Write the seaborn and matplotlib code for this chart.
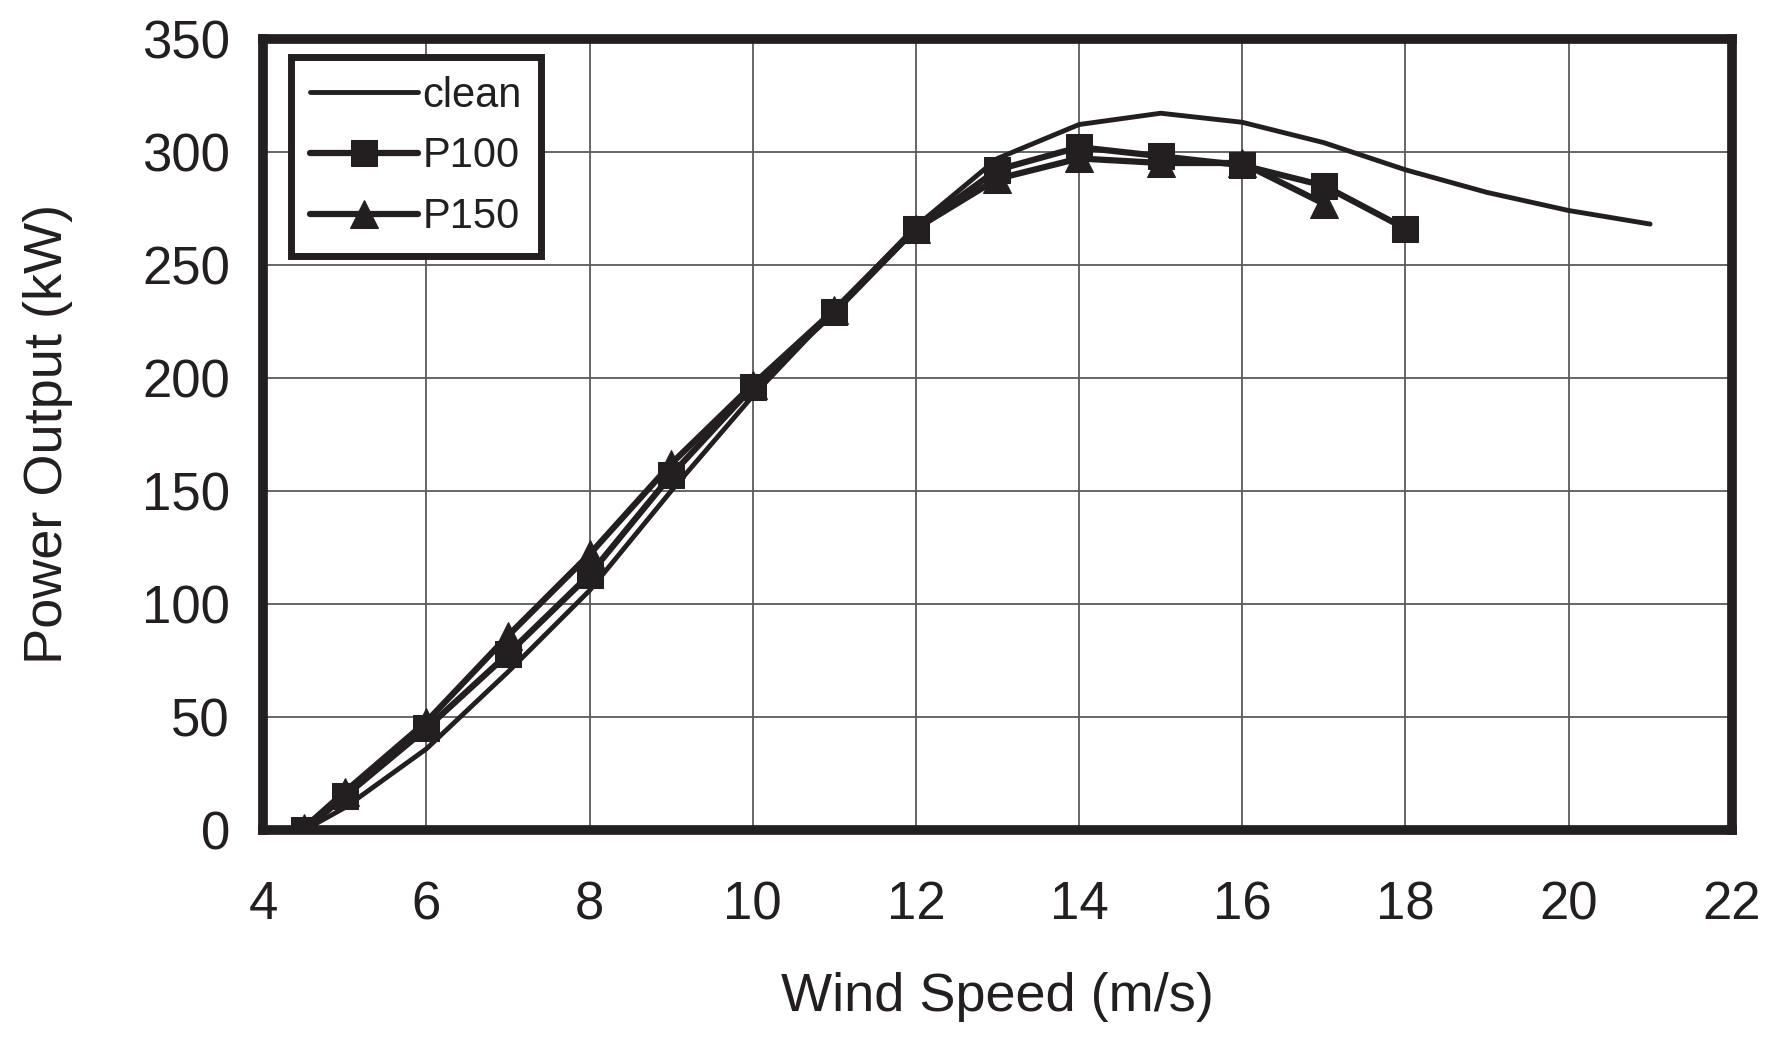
import numpy as np
import pandas as pd
import seaborn as sns
from matplotlib import pyplot as plt

# wind speed (m/s) and power output (kW)
clean_ws = [4.5, 5, 6, 7, 8, 9, 10, 11, 12, 13, 14, 15, 16, 17, 18, 19, 20, 21]
clean_kw = [0, 10, 36, 70, 106, 150, 192, 230, 267, 297, 312, 317, 313, 304, 292, 282, 274, 268]

p100_ws = [4.5, 5, 6, 7, 8, 9, 10, 11, 12, 13, 14, 15, 16, 17, 18]
p100_kw = [0, 15, 45, 78, 113, 157, 196, 229, 266, 292, 302, 298, 294, 285, 266]

p150_ws = [4.5, 5, 6, 7, 8, 9, 10, 11, 12, 13, 14, 15, 16, 17]
p150_kw = [1, 17, 48, 86, 122, 162, 197, 230, 266, 288, 297, 295, 295, 277]

ink = '#231f20'

sns.set_style('white')
plt.rcParams['font.family'] = ['Liberation Sans', 'DejaVu Sans']

fig, ax = plt.subplots(figsize=(17.67, 10.43), dpi=100)
fig.subplots_adjust(left=0.149, right=0.980, top=0.963, bottom=0.204)

sns.lineplot(x=clean_ws, y=clean_kw, ax=ax, color=ink, linewidth=3.5, label='clean')
sns.lineplot(x=p100_ws, y=p100_kw, ax=ax, color=ink, linewidth=4.5, marker='s',
             markersize=19, markeredgecolor=ink, label='P100')
sns.lineplot(x=p150_ws, y=p150_kw, ax=ax, color=ink, linewidth=4.5, marker='^',
             markersize=20, markeredgecolor=ink, label='P150')

ax.set_xlim(4, 22)
ax.set_ylim(0, 350)
ax.set_xticks(range(4, 23, 2))
ax.set_yticks(range(0, 351, 50))
ax.grid(True, color='#5a5a5a', linewidth=1.3)
ax.set_axisbelow(True)

for s in ax.spines.values():
    s.set_visible(True)
    s.set_linewidth(7)
    s.set_color(ink)

ax.tick_params(axis='both', labelsize=38, colors=ink, direction='out', length=8, width=1.3)
ax.tick_params(axis='x', pad=28)
ax.tick_params(axis='y', pad=16)
ax.set_xlabel('Wind Speed (m/s)', fontsize=39, color=ink, labelpad=30)
ax.set_ylabel('Power Output (kW)', fontsize=39, color=ink, labelpad=50)

leg = ax.legend(loc='upper left', bbox_to_anchor=(0.019, 0.977), fontsize=30,
                frameon=True, fancybox=False, handlelength=2.6, handletextpad=0.1,
                borderpad=0.45, labelspacing=0.5, borderaxespad=0)
leg.get_frame().set_edgecolor(ink)
leg.get_frame().set_linewidth(5)
leg.get_frame().set_alpha(1)
for t in leg.get_texts():
    t.set_color(ink)

fig.savefig('out.png', dpi=100)
